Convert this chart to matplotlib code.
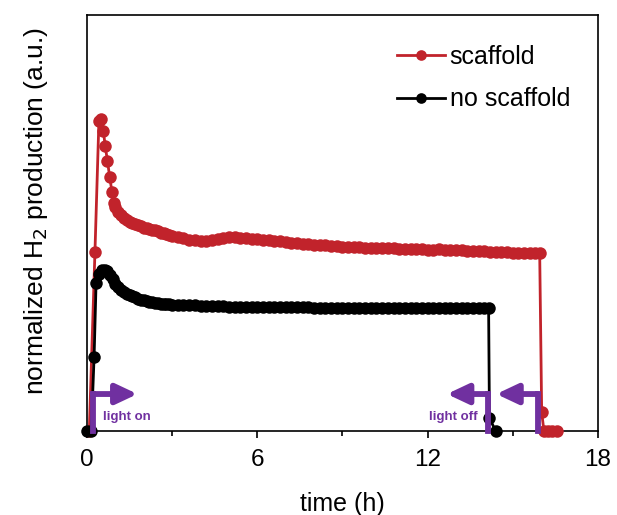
import matplotlib
matplotlib.use("Agg")
import matplotlib.pyplot as plt
from matplotlib.ticker import MultipleLocator

plt.rcParams['font.family'] = ['Liberation Sans', 'DejaVu Sans']

# scaffold (red)
t_scaffold = [0.08, 0.28, 0.42, 0.50, 0.58, 0.64, 0.72, 0.80, 0.88, 0.95,
              1.0, 1.1, 1.2, 1.3, 1.4, 1.5, 1.6, 1.7, 1.8, 1.9,
              2.0, 2.1, 2.2, 2.3, 2.4, 2.5, 2.6, 2.7, 2.8, 2.9,
              3.0, 3.2, 3.4, 3.6, 3.8, 4.0, 4.2, 4.4, 4.6, 4.8,
              5.0, 5.2, 5.4, 5.6, 5.8, 6.0, 6.2, 6.4, 6.6, 6.8,
              7.0, 7.2, 7.4, 7.6, 7.8, 8.0, 8.2, 8.4, 8.6, 8.8,
              9.0, 9.2, 9.4, 9.6, 9.8, 10.0, 10.2, 10.4, 10.6, 10.8,
              11.0, 11.2, 11.4, 11.6, 11.8, 12.0, 12.2, 12.4, 12.6, 12.8,
              13.0, 13.2, 13.4, 13.6, 13.8, 14.0, 14.2, 14.4, 14.6, 14.8,
              15.0, 15.2, 15.4, 15.6, 15.8, 15.95, 16.02, 16.1, 16.25, 16.4,
              16.55]
y_scaffold = [0.0, 0.43, 0.745, 0.75, 0.72, 0.685, 0.65, 0.61, 0.575, 0.548,
              0.538, 0.527, 0.519, 0.512, 0.507, 0.503, 0.500, 0.497, 0.494, 0.492,
              0.489, 0.487, 0.485, 0.484, 0.482, 0.480, 0.477, 0.475, 0.473, 0.471,
              0.469, 0.466, 0.463, 0.460, 0.458, 0.456, 0.457, 0.459, 0.462, 0.464,
              0.466, 0.466, 0.465, 0.464, 0.462, 0.461, 0.460, 0.458, 0.457, 0.456,
              0.454, 0.453, 0.452, 0.450, 0.449, 0.448, 0.447, 0.446, 0.445, 0.444,
              0.443, 0.443, 0.442, 0.442, 0.441, 0.441, 0.440, 0.440, 0.439, 0.439,
              0.438, 0.438, 0.437, 0.437, 0.437, 0.436, 0.436, 0.437, 0.435, 0.435,
              0.434, 0.434, 0.433, 0.433, 0.432, 0.432, 0.431, 0.431, 0.430, 0.430,
              0.429, 0.429, 0.428, 0.429, 0.428, 0.428, 0.045, 0.0, 0.0, 0.0,
              0.0]

# no scaffold (black)
t_none = [0.00, 0.15, 0.25, 0.32, 0.42, 0.52, 0.62, 0.72, 0.80, 0.90,
          1.0, 1.1, 1.2, 1.3, 1.4, 1.5, 1.6, 1.7, 1.8, 1.9,
          2.0, 2.1, 2.2, 2.3, 2.4, 2.5, 2.6, 2.7, 2.8, 2.9,
          3.0, 3.2, 3.4, 3.6, 3.8, 4.0, 4.2, 4.4, 4.6, 4.8,
          5.0, 5.2, 5.4, 5.6, 5.8, 6.0, 6.2, 6.4, 6.6, 6.8,
          7.0, 7.2, 7.4, 7.6, 7.8, 8.0, 8.2, 8.4, 8.6, 8.8,
          9.0, 9.2, 9.4, 9.6, 9.8, 10.0, 10.2, 10.4, 10.6, 10.8,
          11.0, 11.2, 11.4, 11.6, 11.8, 12.0, 12.2, 12.4, 12.6, 12.8,
          13.0, 13.2, 13.4, 13.6, 13.8, 14.0, 14.15, 14.18, 14.4]
y_none = [0.0, 0.0, 0.178, 0.356, 0.378, 0.386, 0.388, 0.384, 0.376, 0.365,
          0.354, 0.346, 0.339, 0.334, 0.330, 0.327, 0.324, 0.321, 0.318, 0.316,
          0.314, 0.312, 0.311, 0.310, 0.308, 0.307, 0.306, 0.306, 0.305, 0.305,
          0.304, 0.303, 0.303, 0.302, 0.302, 0.301, 0.301, 0.300, 0.300, 0.300,
          0.299, 0.299, 0.299, 0.299, 0.298, 0.298, 0.298, 0.298, 0.298, 0.297,
          0.297, 0.297, 0.297, 0.297, 0.297, 0.296, 0.296, 0.296, 0.296, 0.296,
          0.296, 0.296, 0.296, 0.296, 0.296, 0.296, 0.296, 0.296, 0.296, 0.296,
          0.296, 0.296, 0.296, 0.296, 0.296, 0.296, 0.296, 0.296, 0.296, 0.296,
          0.296, 0.296, 0.296, 0.296, 0.296, 0.296, 0.296, 0.031, 0.0]

# light switch times: (line x, arrow tip x)
light_on = (0.2, 1.78)
light_off = [(14.12, 12.68), (15.88, 14.42)]

red = '#c1232b'
purple = '#7030a0'

fig = plt.figure(figsize=(6.17, 5.15), dpi=100)
ax = fig.add_axes([0.141, 0.163, 0.828, 0.808])

ax.plot(t_scaffold, y_scaffold, '-o', color=red, lw=2, ms=9, mew=0,
        label='scaffold', clip_on=False, zorder=3)
ax.plot(t_none, y_none, '-o', color='black', lw=2, ms=9, mew=0,
        label='no scaffold', clip_on=False, zorder=4)


def elbow(x0, x_tip, y_top=0.089):
    ax.plot([x0, x0], [0, y_top], color=purple, lw=4.2, solid_capstyle='projecting',
            zorder=5, clip_on=False)
    ax.annotate('', xy=(x_tip, y_top), xytext=(x0, y_top),
                arrowprops=dict(arrowstyle='-|>,head_length=0.85,head_width=0.4',
                                color=purple, lw=4.2, mutation_scale=15,
                                shrinkA=0, shrinkB=0), zorder=5)


elbow(*light_on)
for x0, xt in light_off:
    elbow(x0, xt)
ax.text(0.56, 0.034, 'light on', color=purple, fontsize=9.5, fontweight='bold',
        va='center', ha='left')
ax.text(13.77, 0.034, 'light off', color=purple, fontsize=9.5, fontweight='bold',
        va='center', ha='right')

ax.set_xlim(0, 18)
ax.set_ylim(0, 1.0)
ax.set_xticks([0, 6, 12, 18])
ax.xaxis.set_minor_locator(MultipleLocator(3))
ax.set_yticks([])
ax.tick_params(axis='x', which='major', direction='out', length=5, width=1.2,
               labelsize=17.5, pad=8)
ax.tick_params(axis='x', which='minor', direction='out', length=3.5, width=1.2)
for s in ax.spines.values():
    s.set_linewidth(1.2)

ax.set_xlabel('time (h)', fontsize=18, labelpad=15)
ax.set_ylabel('normalized H$_2$ production (a.u.)', fontsize=19)
ax.yaxis.set_label_coords(-0.072, 0.529)

ax.legend(loc='upper left', bbox_to_anchor=(0.607, 0.928), frameon=False,
          borderaxespad=0, borderpad=0, fontsize=18, handlelength=1.92,
          handletextpad=0.18, labelspacing=0.74, markerscale=0.85)

fig.savefig('out.png', dpi=100)
